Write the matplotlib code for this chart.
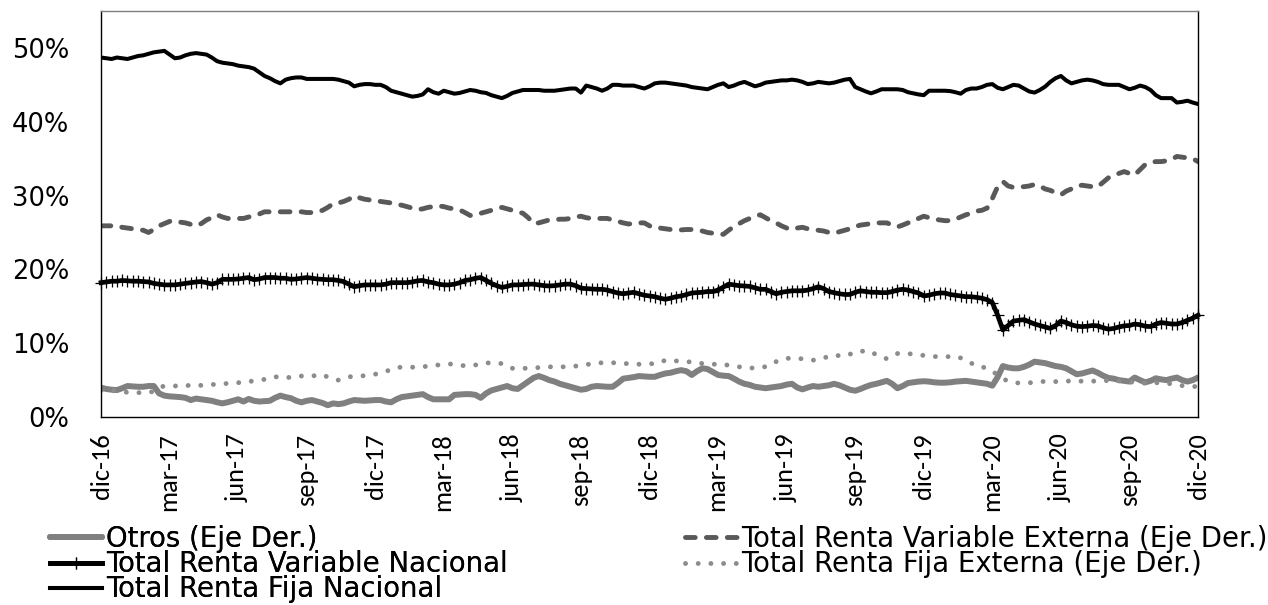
import numpy as np
import pandas as pd
import matplotlib
matplotlib.use("Agg")
import matplotlib.pyplot as plt
from matplotlib import font_manager

plt.rcParams['font.family'] = ['DejaVu Sans']

# fuente estrecha para las fechas del eje x
nombres = {f.name for f in font_manager.fontManager.ttflist}
fuente_fechas = next((n for n in ['Carlito', 'Lato', 'Open Sans', 'Liberation Sans Narrow']
                      if n in nombres), 'DejaVu Sans')

# semanas entre dic-16 y dic-20
fechas = pd.date_range('2016-12-01', '2020-12-01', periods=209)

otros = [
    3.97, 3.8, 3.7, 3.65, 3.9, 4.2, 4.15, 4.1, 4.1, 4.2,
    4.2, 3.2, 2.9, 2.8, 2.75, 2.7, 2.6, 2.3, 2.5, 2.4,
    2.3, 2.2, 2.0, 1.85, 2.0, 2.2, 2.4, 2.1, 2.45, 2.2,
    2.1, 2.15, 2.2, 2.6, 2.9, 2.7, 2.55, 2.2, 1.99, 2.2,
    2.3, 2.1, 1.9, 1.6, 1.85, 1.75, 1.85, 2.1, 2.3, 2.25,
    2.2, 2.25, 2.3, 2.3, 2.1, 2.0, 2.4, 2.7, 2.8, 2.9,
    3.0, 3.1, 2.7, 2.4, 2.4, 2.4, 2.4, 3.0, 3.05, 3.1,
    3.1, 3.0, 2.6, 3.2, 3.6, 3.8, 4.0, 4.2, 3.9, 3.8,
    4.3, 4.8, 5.3, 5.55, 5.3, 5.0, 4.8, 4.5, 4.3, 4.1,
    3.9, 3.7, 3.8, 4.1, 4.2, 4.15, 4.1, 4.1, 4.6, 5.2,
    5.3, 5.4, 5.55, 5.5, 5.45, 5.45, 5.7, 5.9, 6.0, 6.2,
    6.35, 6.2, 5.7, 6.2, 6.6, 6.5, 6.1, 5.7, 5.6, 5.55,
    5.2, 4.8, 4.5, 4.35, 4.1, 4.0, 3.9, 4.0, 4.1, 4.2,
    4.4, 4.5, 4.0, 3.75, 4.0, 4.2, 4.1, 4.2, 4.3, 4.5,
    4.3, 4.0, 3.7, 3.56, 3.8, 4.1, 4.35, 4.5, 4.7, 4.9,
    4.5, 3.9, 4.2, 4.6, 4.7, 4.8, 4.85, 4.8, 4.7, 4.65,
    4.65, 4.7, 4.8, 4.85, 4.9, 4.8, 4.7, 4.6, 4.5, 4.25,
    5.4, 6.9, 6.7, 6.6, 6.6, 6.8, 7.1, 7.5, 7.4, 7.3,
    7.1, 6.9, 6.8, 6.6, 6.2, 5.8, 5.9, 6.1, 6.3, 6.0,
    5.6, 5.3, 5.2, 5.0, 4.9, 4.8, 5.35, 5.0, 4.7, 4.9,
    5.25, 5.1, 5.0, 5.2, 5.35, 5.0, 4.8, 5.0, 5.35,
]

rv_nacional = [
    18.2, 18.3, 18.4, 18.4, 18.5, 18.45, 18.4, 18.4, 18.35, 18.3,
    18.1, 18.0, 17.9, 17.9, 17.9, 18.0, 18.1, 18.2, 18.3, 18.35,
    18.2, 18.0, 18.2, 18.65, 18.65, 18.65, 18.7, 18.8, 18.9, 18.6,
    18.7, 18.9, 18.9, 18.9, 18.8, 18.8, 18.65, 18.7, 18.8, 18.9,
    18.8, 18.7, 18.65, 18.6, 18.6, 18.5, 18.35, 18.0, 17.65, 17.8,
    17.9, 17.9, 17.9, 17.9, 18.0, 18.2, 18.2, 18.2, 18.2, 18.3,
    18.45, 18.5, 18.3, 18.2, 18.0, 17.9, 17.9, 18.0, 18.2, 18.5,
    18.6, 18.8, 18.9, 18.5, 18.1, 17.8, 17.55, 17.7, 17.9, 17.9,
    17.95, 18.0, 18.0, 17.9, 17.8, 17.75, 17.8, 17.9, 18.0, 18.0,
    17.8, 17.45, 17.4, 17.35, 17.3, 17.3, 17.2, 17.0, 16.8, 16.7,
    16.8, 16.9, 16.7, 16.5, 16.4, 16.3, 16.1, 15.95, 16.1, 16.3,
    16.4, 16.6, 16.8, 16.85, 16.9, 17.0, 17.0, 17.2, 17.6, 18.0,
    17.9, 17.8, 17.75, 17.7, 17.5, 17.3, 17.3, 17.0, 16.7, 16.9,
    17.0, 17.1, 17.1, 17.1, 17.2, 17.4, 17.65, 17.4, 17.0, 16.85,
    16.7, 16.6, 16.6, 16.9, 17.1, 17.0, 16.9, 16.9, 16.85, 16.85,
    17.0, 17.2, 17.3, 17.2, 17.0, 16.8, 16.4, 16.5, 16.7, 16.8,
    16.8, 16.6, 16.5, 16.4, 16.3, 16.3, 16.2, 16.1, 15.9, 15.5,
    13.8, 11.8, 12.4, 13.0, 13.1, 13.2, 12.9, 12.6, 12.4, 12.2,
    12.0, 12.4, 13.0, 12.8, 12.5, 12.3, 12.25, 12.3, 12.4, 12.35,
    12.1, 11.9, 12.0, 12.2, 12.35, 12.4, 12.6, 12.5, 12.3, 12.25,
    12.6, 12.8, 12.7, 12.6, 12.6, 12.8, 13.1, 13.4, 13.8,
]

rf_nacional = [
    48.7, 48.6, 48.5, 48.7, 48.6, 48.5, 48.7, 48.9, 49.0, 49.2,
    49.4, 49.5, 49.6, 49.1, 48.6, 48.7, 49.0, 49.2, 49.3, 49.2,
    49.1, 48.7, 48.2, 48.0, 47.9, 47.8, 47.6, 47.5, 47.4, 47.2,
    46.7, 46.2, 45.9, 45.5, 45.2, 45.7, 45.9, 46.0, 46.0, 45.8,
    45.8, 45.8, 45.8, 45.8, 45.8, 45.7, 45.5, 45.3, 44.8, 45.0,
    45.1, 45.1, 45.0, 45.0, 44.7, 44.2, 44.0, 43.8, 43.6, 43.4,
    43.5, 43.7, 44.4, 44.0, 43.8, 44.2, 44.0, 43.8, 43.9, 44.1,
    44.3, 44.2, 44.0, 43.9, 43.6, 43.4, 43.2, 43.5, 43.9, 44.1,
    44.3, 44.3, 44.3, 44.3, 44.2, 44.2, 44.2, 44.3, 44.4, 44.5,
    44.5, 43.95, 44.9, 44.7, 44.5, 44.2, 44.5, 45.0, 45.0, 44.9,
    44.9, 44.9, 44.7, 44.5, 44.8, 45.2, 45.3, 45.3, 45.2, 45.1,
    45.0, 44.9, 44.7, 44.6, 44.5, 44.4, 44.7, 45.0, 45.2, 44.7,
    44.9, 45.2, 45.4, 45.1, 44.8, 45.0, 45.3, 45.4, 45.5, 45.6,
    45.6, 45.7, 45.6, 45.4, 45.1, 45.2, 45.4, 45.3, 45.2, 45.3,
    45.5, 45.7, 45.8, 44.7, 44.4, 44.1, 43.85, 44.1, 44.4, 44.4,
    44.4, 44.4, 44.3, 44.0, 43.85, 43.7, 43.6, 44.2, 44.2, 44.2,
    44.2, 44.15, 44.0, 43.8, 44.3, 44.5, 44.5, 44.7, 45.0, 45.1,
    44.6, 44.4, 44.7, 45.0, 44.9, 44.5, 44.1, 43.95, 44.3, 44.75,
    45.4, 45.9, 46.2, 45.6, 45.2, 45.4, 45.6, 45.7, 45.6, 45.4,
    45.1, 45.0, 45.0, 45.0, 44.7, 44.4, 44.6, 44.9, 44.7, 44.3,
    43.6, 43.2, 43.2, 43.2, 42.6, 42.7, 42.85, 42.6, 42.4,
]

rv_externa = [
    25.9, 25.9, 25.9, 25.9, 25.7, 25.6, 25.5, 25.4, 25.3, 25.0,
    25.4, 25.9, 26.2, 26.5, 26.6, 26.4, 26.3, 26.1, 25.9, 26.2,
    26.7, 27.0, 27.4, 27.1, 26.9, 26.9, 26.9, 26.9, 27.1, 27.3,
    27.5, 27.8, 27.8, 27.8, 27.8, 27.8, 27.8, 27.8, 27.8, 27.7,
    27.7, 27.8, 28.0, 28.4, 28.9, 29.0, 29.2, 29.5, 29.95, 29.7,
    29.5, 29.4, 29.3, 29.2, 29.1, 29.0, 28.8, 28.7, 28.5, 28.3,
    28.1, 28.2, 28.4, 28.5, 28.6, 28.5, 28.3, 28.2, 28.05, 27.7,
    27.3, 27.4, 27.6, 27.8, 28.0, 28.2, 28.4, 28.2, 28.0, 27.8,
    27.6, 27.0, 26.2, 26.3, 26.5, 26.7, 26.7, 26.8, 26.8, 26.9,
    27.1, 27.2, 27.0, 26.9, 26.9, 26.9, 26.9, 26.7, 26.5, 26.3,
    26.15, 26.2, 26.3, 26.3, 25.9, 25.6, 25.6, 25.5, 25.4, 25.4,
    25.35, 25.4, 25.4, 25.3, 25.2, 25.0, 24.9, 24.8, 24.75, 25.3,
    25.8, 26.2, 26.6, 26.9, 27.2, 27.4, 27.0, 26.6, 26.3, 25.9,
    25.6, 25.4, 25.6, 25.7, 25.5, 25.4, 25.3, 25.2, 25.0, 24.9,
    25.1, 25.3, 25.5, 25.8, 26.0, 26.1, 26.2, 26.3, 26.3, 26.3,
    26.0, 25.75, 26.0, 26.3, 26.45, 26.9, 27.2, 27.0, 26.8, 26.7,
    26.6, 26.6, 26.8, 27.1, 27.4, 27.6, 27.9, 28.0, 28.3, 29.6,
    31.2, 31.9, 31.3, 31.1, 31.2, 31.2, 31.3, 31.5, 31.3, 30.9,
    30.7, 30.4, 30.1, 30.6, 30.9, 31.3, 31.4, 31.3, 31.2, 31.2,
    31.8, 32.4, 32.7, 33.0, 33.25, 33.0, 32.8, 33.5, 34.2, 34.5,
    34.6, 34.6, 34.7, 34.9, 35.3, 35.2, 35.1, 35.0, 34.6,
]

rf_externa = [
    3.6, 3.65, 3.6, 3.5, 3.4, 3.35, 3.3, 3.3, 3.3, 3.3,
    3.5, 4.0, 4.2, 4.2, 4.2, 4.25, 4.3, 4.25, 4.2, 4.3,
    4.4, 4.4, 4.45, 4.5, 4.55, 4.6, 4.65, 4.7, 4.8, 4.9,
    5.0, 5.1, 5.3, 5.45, 5.4, 5.3, 5.4, 5.55, 5.55, 5.55,
    5.55, 5.65, 5.75, 5.4, 5.1, 5.0, 5.2, 5.45, 5.5, 5.55,
    5.6, 5.7, 5.8, 6.0, 6.2, 6.4, 6.7, 6.75, 6.75, 6.75,
    6.75, 6.8, 6.9, 7.0, 7.05, 7.1, 7.2, 7.1, 7.0, 6.95,
    7.0, 7.05, 7.2, 7.35, 7.3, 7.25, 7.25, 7.0, 6.6, 6.6,
    6.6, 6.6, 6.65, 6.7, 6.75, 6.8, 6.8, 6.8, 6.8, 6.85,
    6.9, 7.0, 7.1, 7.2, 7.3, 7.35, 7.35, 7.35, 7.35, 7.3,
    7.2, 7.2, 7.15, 7.15, 7.2, 7.25, 7.4, 7.7, 7.65, 7.6,
    7.55, 7.5, 7.45, 7.35, 7.25, 7.2, 7.15, 7.15, 7.15, 7.0,
    6.9, 6.8, 6.7, 6.6, 6.7, 6.8, 6.8, 7.1, 7.5, 7.7,
    7.95, 7.95, 7.9, 7.9, 7.9, 7.7, 7.8, 8.0, 8.2, 8.4,
    8.3, 8.25, 8.5, 8.85, 8.9, 8.95, 8.9, 8.4, 8.1, 7.9,
    8.2, 8.6, 8.6, 8.6, 8.5, 8.4, 8.35, 8.25, 8.2, 8.15,
    8.15, 8.2, 8.25, 8.0, 7.6, 7.3, 6.9, 6.8, 6.6, 6.2,
    5.7, 5.2, 4.85, 4.7, 4.6, 4.6, 4.65, 4.65, 4.75, 4.85,
    4.85, 4.8, 4.8, 4.85, 4.9, 4.9, 4.85, 4.8, 4.85, 4.9,
    4.9, 4.95, 5.0, 4.9, 4.8, 4.75, 4.7, 4.6, 4.6, 4.65,
    4.65, 4.6, 4.55, 4.5, 4.4, 4.25, 4.2, 4.15, 4.1,
]

meses_ticks = pd.date_range('2016-12-01', '2020-12-01', freq='3MS')
etiquetas = ['dic-16', 'mar-17', 'jun-17', 'sep-17', 'dic-17', 'mar-18',
             'jun-18', 'sep-18', 'dic-18', 'mar-19', 'jun-19', 'sep-19',
             'dic-19', 'mar-20', 'jun-20', 'sep-20', 'dic-20']

fig = plt.figure(figsize=(12.68, 6.05), dpi=100)
ax = fig.add_axes([0.0797, 0.3107, 0.8651, 0.6711])

l_otros, = ax.plot(fechas, np.array(otros) / 100, color='#808080', lw=4.3,
                   solid_capstyle='round', solid_joinstyle='round',
                   label='Otros (Eje Der.)')
l_rvn, = ax.plot(fechas, np.array(rv_nacional) / 100, color='black', lw=3.4,
                 marker='+', markersize=8, markeredgewidth=0.9,
                 solid_joinstyle='round', clip_on=False,
                 label='Total Renta Variable Nacional')
l_rfn, = ax.plot(fechas, np.array(rf_nacional) / 100, color='black', lw=2.9,
                 solid_joinstyle='round', label='Total Renta Fija Nacional')
l_rve, = ax.plot(fechas, np.array(rv_externa) / 100, color='#595959', lw=3.5,
                 linestyle=(0, (2.0, 2.3)), dash_capstyle='round',
                 label='Total Renta Variable Externa (Eje Der.)')
l_rfe, = ax.plot(fechas, np.array(rf_externa) / 100, color='#8c8c8c', lw=3.5,
                 linestyle=(0, (0.01, 2.6)), dash_capstyle='round',
                 label='Total Renta Fija Externa (Eje Der.)')

ax.set_xlim(fechas[0], fechas[-1])
ax.set_ylim(0, 0.55)
ax.set_yticks(np.arange(0, 0.51, 0.1))
ax.set_yticklabels([f'{v}%' for v in range(0, 51, 10)], fontsize=18.5)
ax.set_xticks(meses_ticks)
ax.set_xticklabels(etiquetas, rotation=90, fontsize=19, family=fuente_fechas)
ax.tick_params(axis='y', length=0, pad=23)
ax.tick_params(axis='x', length=0, pad=12)

for lado in ['left', 'bottom', 'right']:
    ax.spines[lado].set_color('black')
    ax.spines[lado].set_linewidth(1.0)
ax.spines['top'].set_color('#7f7f7f')
ax.spines['top'].set_linewidth(1.0)

estilo_ley = dict(loc='upper left', frameon=False, fontsize=19.8, borderpad=0,
                  borderaxespad=0, handlelength=1.89, handletextpad=0.145,
                  labelspacing=-0.1)
ley1 = fig.legend(handles=[l_otros, l_rvn, l_rfn],
                  bbox_to_anchor=(0.0394, 0.1323), **estilo_ley)
fig.add_artist(ley1)
fig.legend(handles=[l_rve, l_rfe], bbox_to_anchor=(0.5402, 0.1323), **estilo_ley)

fig.savefig('out.png', dpi=100)
